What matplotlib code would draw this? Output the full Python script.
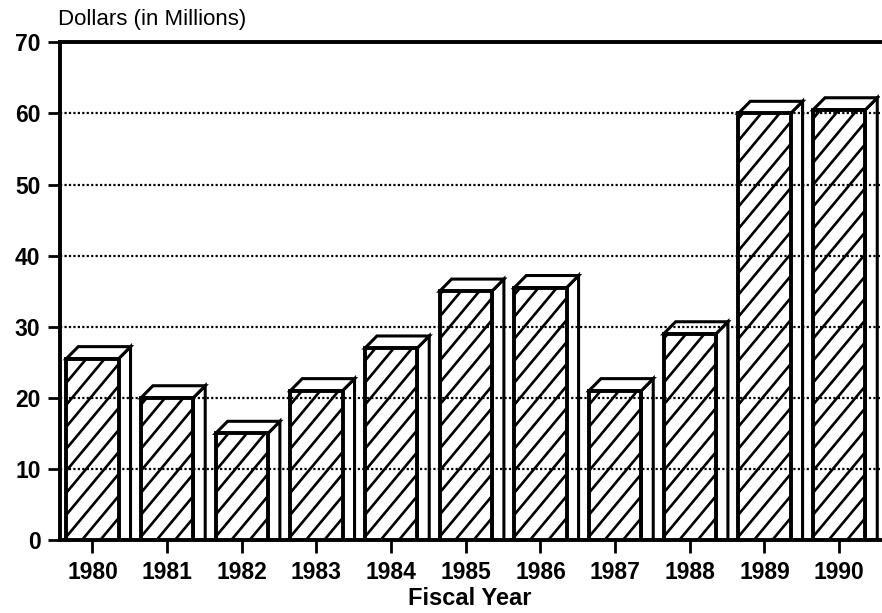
import numpy as np
import matplotlib.pyplot as plt
from matplotlib.patches import Polygon, Rectangle

years = ['1980', '1981', '1982', '1983', '1984', '1985',
         '1986', '1987', '1988', '1989', '1990']
dollars = [25.5, 20, 15, 21, 27, 35, 35.5, 21, 29, 60, 60.5]

font = dict(family=['Liberation Sans', 'DejaVu Sans'], weight='bold')

fig = plt.figure(figsize=(8.82, 6.13), dpi=100)
ax = fig.add_axes([0.068, 0.119, 0.93, 0.812])
ax.set_xlim(-0.435, 10.55)
ax.set_ylim(0, 70)

w = 0.70      # front face width
dx = 0.16     # depth offset in x (data units)
dy = 1.7      # depth offset in y (data units)

# pixels per data unit, to get hatch lines at a fixed on-screen angle
bb = ax.get_window_extent()
px_x = bb.width / (10.55 + 0.435)
px_y = bb.height / 70.0
slope = 1.2 * px_x / px_y     # data-unit slope of the hatch lines
step = 22.0 / px_y            # vertical spacing of hatch lines

for i, h in enumerate(dollars):
    x0 = i - w / 2
    x1 = i + w / 2
    # side face
    ax.add_patch(Polygon([(x1, 0), (x1, h), (x1 + dx, h + dy), (x1 + dx, 0)],
                         closed=True, facecolor='white', edgecolor='black',
                         lw=2.2, zorder=2))
    # top face
    ax.add_patch(Polygon([(x0, h), (x0 + dx, h + dy), (x1 + dx, h + dy), (x1, h)],
                         closed=True, facecolor='white', edgecolor='black',
                         lw=2.2, zorder=2))
    # front face
    front = Rectangle((x0, 0), w, h, facecolor='white', edgecolor='none', zorder=3)
    ax.add_patch(front)
    rise = slope * w
    for c in np.arange(-rise, h + step, step):
        ln, = ax.plot([x0, x1], [c, c + rise], color='black', lw=1.9, zorder=3.5)
        ln.set_clip_path(front)
    ax.add_patch(Rectangle((x0, 0), w, h, facecolor='none', edgecolor='black',
                           lw=2.8, zorder=3.6))

ax.set_yticks(range(0, 71, 10))
ax.set_xticks(range(len(years)))
ax.set_xticklabels(years)

for y in range(10, 70, 10):
    ax.axhline(y, color='black', lw=1.6, ls=(0, (1, 1)), zorder=4)

for s in ['left', 'top', 'bottom']:
    ax.spines[s].set_linewidth(2.8)
ax.spines['right'].set_visible(False)

ax.tick_params(axis='y', length=9, width=2, pad=5, direction='out')
ax.tick_params(axis='x', length=9, width=2, pad=6, direction='out')
for lab in ax.get_xticklabels() + ax.get_yticklabels():
    lab.set(fontsize=16.5, **font)

fig.text(0.066, 0.968, 'Dollars (in Millions)', fontsize=16, ha='left', va='center',
         family=['Liberation Sans', 'DejaVu Sans'])
ax.set_xlabel('Fiscal Year', fontsize=17, labelpad=2, **font)

fig.savefig('out.png', dpi=100)
